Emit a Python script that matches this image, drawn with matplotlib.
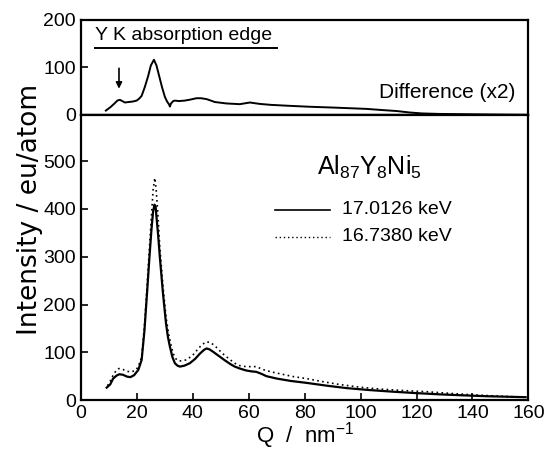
import numpy as np
import matplotlib
matplotlib.use('Agg')
import matplotlib.pyplot as plt

# 17.0126 keV (solid)
q_solid = [9.2, 10.5, 11.5, 12.7, 13.7, 15.0, 16.5, 17.7, 19.0, 20.5, 21.7, 22.7, 23.7, 24.5, 25.2,
           25.8, 26.3, 26.7, 27.0, 27.6, 28.2, 29.3, 30.4, 31.1, 31.8, 32.7, 33.6, 34.5, 35.4, 37.0,
           38.9, 40.8, 42.5, 44.0, 44.9, 46.0, 47.5, 49.6, 51.5, 53.5, 55.0, 56.8, 59.0, 61.0, 62.7,
           64.5, 66.3, 70, 75, 80.6, 88, 95, 103, 111.5, 120, 128, 136, 145, 152, 159]
i_solid = [26, 33, 45, 51, 54, 53, 49, 48, 52, 63, 84, 145, 230, 300, 356,
           395, 409, 405, 384, 345, 300, 225, 161, 132, 112, 90, 77, 72, 70, 72,
           77, 86, 97, 105, 108, 106, 100, 91, 83, 75, 70, 66, 62, 60, 59,
           55, 50, 45, 40, 36, 30, 25, 21, 17.5, 14.5, 12, 10, 8, 7, 6]

# 16.7380 keV (dotted)
q_dot = [9.5, 10.5, 11.5, 12.5, 13.5, 15.0, 16.5, 18.0, 19.5, 20.5, 21.7, 22.7, 23.7, 24.5, 25.2,
         25.8, 26.4, 26.9, 27.5, 28.2, 29.3, 30.4, 31.3, 32.2, 33.0, 34.2, 35.5, 37.7, 40, 42,
         43.5, 44.9, 46.5, 48.5, 50.5, 53, 55, 56.8, 59, 62.7, 65, 68, 72, 76, 80.6,
         86, 92, 99.6, 107, 115, 123.5, 132, 140, 150, 159]
i_dot = [30, 40, 52, 61, 66, 64, 60, 59, 62, 70, 90, 155, 245, 320, 385,
         440, 465, 440, 390, 320, 240, 175, 140, 115, 97, 84, 82, 84, 94, 108,
         117, 122, 120, 110, 98, 86, 77, 72, 70, 70, 64, 59, 54, 49, 45,
         39, 33, 27, 23, 20, 17.5, 14, 11, 8, 6]

# difference (x2)
q_diff = [8.9, 10.5, 12.0, 13.0, 13.9, 14.8, 15.7, 17, 18.5, 19.9, 20.8, 21.7, 22.8, 24.0, 25.0,
          26.1, 27.0, 28.0, 29.0, 30.0, 30.8, 31.5, 31.8, 32.2, 33.0, 33.6, 35, 37.1, 39, 41.3,
          43, 45, 47.9, 52, 56.8, 60.4, 64, 68, 74.6, 82, 90, 96, 102, 108, 113,
          117.5, 122, 128, 135, 142, 150, 159]
d_diff = [9, 16, 24, 30, 31.6, 29, 26, 27, 28, 30, 34, 40, 58, 81, 104,
          116, 104, 81, 58, 38, 28, 22, 17.5, 24, 29, 30, 29, 30, 32, 35,
          35, 33, 27, 24, 22.5, 26, 23, 21, 19, 17, 15.4, 14, 12.6, 10, 8,
          5, 3, 2, 1.5, 1, 0.5, 0]

plt.rcParams['font.family'] = ['Liberation Sans', 'DejaVu Sans']
plt.rcParams['mathtext.fontset'] = 'custom'
plt.rcParams['mathtext.rm'] = 'Liberation Sans'

fig = plt.figure(figsize=(5.47, 4.5), dpi=100)
gs = fig.add_gridspec(2, 1, height_ratios=[1, 3], hspace=0,
                      left=0.148, right=0.966, bottom=0.111, top=0.956)
ax1 = fig.add_subplot(gs[0])
ax2 = fig.add_subplot(gs[1], sharex=ax1)

for ax in (ax1, ax2):
    for s in ax.spines.values():
        s.set_linewidth(1.6)
    ax.tick_params(direction='in', length=5, width=1.2, labelsize=14)

# top panel
ax1.plot(q_diff, d_diff, color='black', lw=1.4)
ax1.axhline(0, color='black', lw=1.6)
ax1.set_ylim(0, 200)
ax1.set_yticks([0, 100, 200])
ax1.tick_params(axis='x', bottom=False, labelbottom=False)
ax1.text(5, 168, 'Y K absorption edge', fontsize=14, va='center')
ax1.plot([5, 70], [141, 141], color='black', lw=1.4)
ax1.annotate('', xy=(13.6, 55), xytext=(13.6, 98),
             arrowprops=dict(arrowstyle='-|>', color='black', lw=1.2,
                             mutation_scale=9, shrinkA=0, shrinkB=0))
ax1.text(155.5, 46, 'Difference (x2)', fontsize=15, ha='right', va='center')

# bottom panel
ax2.plot(q_solid, i_solid, color='black', lw=1.6)
ax2.plot(q_dot, i_dot, color='black', lw=1.2, ls=(0, (1, 2)))
ax2.set_xlim(0, 160)
ax2.set_ylim(0, 597)
ax2.set_xticks(range(0, 161, 20))
ax2.set_yticks(range(0, 501, 100))

ax2.text(103, 486, r'Al$_{87}$Y$_{8}$Ni$_{5}$', fontsize=18, ha='center', va='center')
ax2.plot([69.3, 88.9], [398, 398], color='black', lw=1.2)
ax2.plot([69.3, 88.9], [342, 342], color='black', lw=1.0, ls=(0, (1, 2)))
ax2.text(93.2, 398, '17.0126 keV', fontsize=14, va='center')
ax2.text(93.2, 342, '16.7380 keV', fontsize=14, va='center')

ax2.set_xlabel(r'Q  /  nm$^{-1}$', fontsize=16, labelpad=-1)
fig.text(0.055, 0.535, 'Intensity / eu/atom', rotation=90, fontsize=19,
         family='DejaVu Sans', ha='center', va='center')

fig.savefig('out.png', dpi=100)
